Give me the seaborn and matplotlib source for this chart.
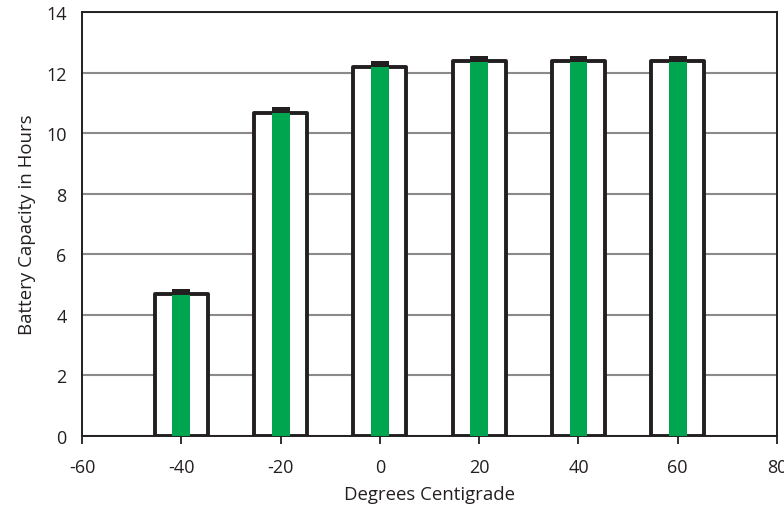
import numpy as np
import pandas as pd
import matplotlib
matplotlib.use("Agg")
import matplotlib.pyplot as plt
import seaborn as sns

# data
temps = [-40, -20, 0, 20, 40, 60]
outline_hours = [4.68, 10.65, 12.18, 12.37, 12.37, 12.37]
green_hours = [4.85, 10.86, 12.38, 12.55, 12.55, 12.55]
cap_size = 0.19

df = pd.DataFrame({"temp": temps, "outline": outline_hours, "green": green_hours})
df["green_body"] = df["green"] - cap_size

sns.set_theme(style="white")
plt.rcParams["font.family"] = ["Open Sans", "DejaVu Sans"]

fig = plt.figure(figsize=(7.84, 5.10), dpi=100)
ax = fig.add_axes([0.1046, 0.143, 0.8865, 0.8315])

ax.yaxis.grid(True, color="#8a8a8a", linewidth=1.5)
ax.set_axisbelow(True)

# outline boxes
sns.barplot(data=df, x="temp", y="outline", native_scale=True, width=0.535,
            color="white", edgecolor="#231f20", linewidth=2.8, saturation=1,
            errorbar=None, ax=ax)
n0 = len(ax.patches)
for p in ax.patches[:n0]:
    p.set_joinstyle("round")
    p.set_zorder(2)

# dark caps then green bodies on top
sns.barplot(data=df, x="temp", y="green", native_scale=True, width=0.18,
            color="#231f20", linewidth=0, saturation=1, errorbar=None, ax=ax)
sns.barplot(data=df, x="temp", y="green_body", native_scale=True, width=0.18,
            color="#00a54f", linewidth=0, saturation=1, errorbar=None, ax=ax)
for p in ax.patches[n0:]:
    p.set_zorder(3)

ax.set_xlim(-60, 80)
ax.set_ylim(0, 14)
ax.set_xticks(np.arange(-60, 81, 20))
ax.set_xticklabels([str(t) for t in range(-60, 81, 20)])
ax.set_yticks(np.arange(0, 15, 2))

for s in ax.spines.values():
    s.set_visible(True)
    s.set_color("#231f20")
    s.set_linewidth(1.4)

ax.tick_params(axis="x", length=6, width=1.3, color="#231f20", labelsize=13, pad=10, bottom=True)
ax.tick_params(axis="y", length=0, labelsize=13, pad=11)

ax.set_xlabel("Degrees Centigrade", fontsize=13.4, labelpad=6, color="#231f20")
ax.set_ylabel("Battery Capacity in Hours", fontsize=13.4, labelpad=7, color="#231f20")
for lbl in ax.get_xticklabels() + ax.get_yticklabels():
    lbl.set_color("#231f20")

fig.savefig("out.png", dpi=100)
